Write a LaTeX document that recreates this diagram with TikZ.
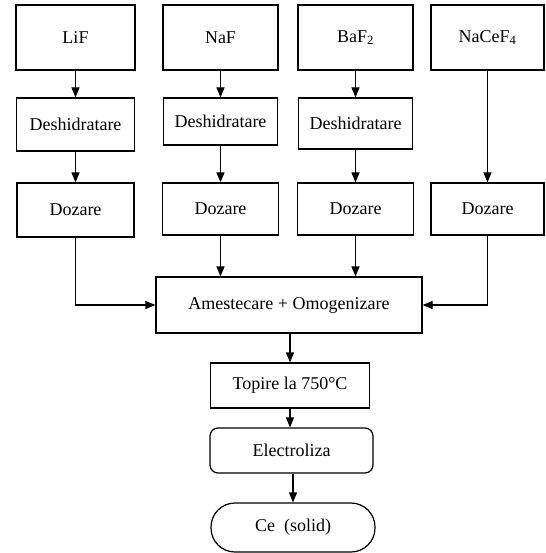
\documentclass[tikz,border=0pt]{standalone}
\usepackage{fontspec}
\setmainfont{Liberation Serif}
\usetikzlibrary{arrows.meta}
\begin{document}
\begin{tikzpicture}[x=1pt,y=-1pt,
  font=\fontsize{18}{20}\selectfont,
  box/.style={draw,line width=1.2pt,inner sep=0pt,align=center},
  rbox/.style={box,rounded corners=8pt},
  pill/.style={box,rounded corners=24pt},
  arr/.style={draw,line width=1.2pt,-{Triangle[length=10pt,width=8pt]}}
]
\useasboundingbox (0,0) rectangle (545,553);
% top row
\node[box,minimum width=119pt,minimum height=65pt] (lif) at (75.5,37.5) {LiF};
\node[box,minimum width=115pt,minimum height=65pt] (naf) at (220.5,37.5) {NaF};
\node[box,minimum width=115pt,minimum height=65pt] (baf) at (355.5,37.5) {BaF\textsubscript{2}};
\node[box,minimum width=113pt,minimum height=65pt] (nacef) at (487.5,37.5) {NaCeF\textsubscript{4}};
% deshidratare
\node[box,minimum width=118pt,minimum height=53pt] (d1) at (75.5,124.5) {Deshidratare};
\node[box,minimum width=114pt,minimum height=47pt] (d2) at (220.5,121.5) {Deshidratare};
\node[box,minimum width=114pt,minimum height=51pt] (d3) at (355.5,123.5) {Deshidratare};
% dozare
\node[box,minimum width=117pt,minimum height=54pt] (z1) at (75.5,210) {Dozare};
\node[box,minimum width=116pt,minimum height=52pt] (z2) at (220.5,209) {Dozare};
\node[box,minimum width=116pt,minimum height=52pt] (z3) at (355.5,209) {Dozare};
\node[box,minimum width=113pt,minimum height=52pt] (z4) at (487.5,209) {Dozare};
% mixing
\node[box,minimum width=266pt,minimum height=56pt] (ame) at (289,305) {Amestecare + Omogenizare};
\node[box,minimum width=159pt,minimum height=45pt] (top) at (290,385.5) {Topire la 750°C};
\node[rbox,minimum width=163pt,minimum height=45pt] (ele) at (291.5,450.5) {Electroliza};
\node[pill,minimum width=164pt,minimum height=49pt] (ce) at (293,527.5) {Ce\ \ (solid)};
% connectors
\draw[arr] (lif) -- (d1);
\draw[arr] (naf) -- (d2);
\draw[arr] (baf) -- (d3);
\draw[arr] (d1) -- (z1);
\draw[arr] (d2) -- (z2);
\draw[arr] (d3) -- (z3);
\draw[arr] (nacef) -- (z4);
\draw[arr] (z1.south) |- (ame.west);
\draw[arr] (z4.south) |- (ame.east);
\draw[arr] (z2.south) -- (z2.south |- ame.north);
\draw[arr] (z3.south) -- (z3.south |- ame.north);
\draw[arr] (ame.south -| top) -- (top.north);
\draw[arr] (top.south) -- (top.south |- ele.north);
\draw[arr] (ele.south -| ce) -- (ce.north);
\end{tikzpicture}
\end{document}
